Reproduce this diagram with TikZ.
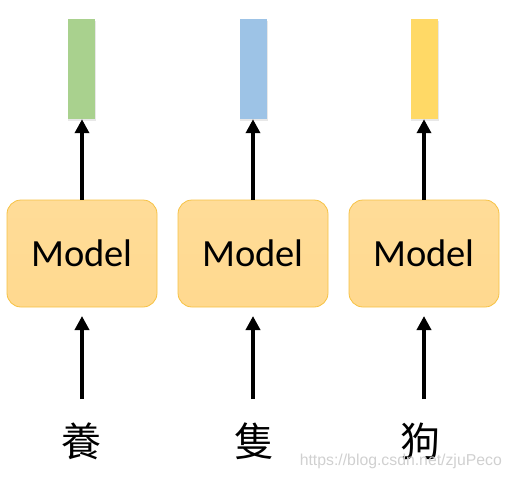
\documentclass[tikz,border=0pt]{standalone}
\usepackage{fontspec}
\setmainfont{Carlito}
\newfontfamily\cjkfont{Noto Sans CJK TC}
\newfontfamily\wmfont{Liberation Sans}
\usetikzlibrary{arrows.meta}
\definecolor{boxfill}{HTML}{FFD98F}
\definecolor{boxtop}{HTML}{FFDC98}
\definecolor{boxedge}{HTML}{F6C244}
\definecolor{vgreen}{HTML}{A9D18E}
\definecolor{vblue}{HTML}{9DC3E6}
\definecolor{vyellow}{HTML}{FFD966}
\definecolor{wmgray}{HTML}{D0D0D0}
\tikzset{
  modelbox/.style={draw=boxedge, line width=0.8pt, top color=boxtop, bottom color=boxfill,
    rounded corners=14pt, minimum width=150pt, minimum height=107pt, inner sep=0pt,
    font=\fontsize{38.5}{40}\selectfont},
  vecbar/.style={minimum width=27pt, minimum height=100pt, inner sep=0pt, draw=none},
  vecshadow/.style={fill=black, opacity=0.09, minimum width=28pt, minimum height=100pt, inner sep=0pt},
  uparrow/.style={line width=4pt, -{Triangle[width=14pt,length=14pt]}},
  cjkchar/.style={font=\cjkfont\fontsize{40}{42}\selectfont, inner sep=0pt},
  watermark/.style={font=\wmfont\fontsize{15.8}{17}\selectfont, text=wmgray, inner sep=0pt, anchor=east}
}
\begin{document}
\begin{tikzpicture}[x=1pt,y=-1pt]
\useasboundingbox (0,0) rectangle (511,480);
% models
\node[modelbox] (m1) at (82,253.5) {Model};
\node[modelbox] (m2) at (253,253.5) {Model};
\node[modelbox] (m3) at (424,253.5) {Model};
% output vectors (shadows then bars)
\node[vecshadow] at (82,70.5) {};
\node[vecshadow] at (253.5,70.5) {};
\node[vecshadow] at (424.5,70.5) {};
\node[vecbar, fill=vgreen] (v1) at (81,69) {};
\node[vecbar, fill=vblue] (v2) at (253,69) {};
\node[vecbar, fill=vyellow] (v3) at (424,69) {};
% inputs
\node[cjkchar] (c1) at (81,441) {養};
\node[cjkchar] (c2) at (254,441) {隻};
\node[cjkchar] (c3) at (420,441) {狗};
\coordinate (b1) at (82,399);
\coordinate (b2) at (253,399);
\coordinate (b3) at (424,399);
% arrows
\draw[uparrow] (m1.north) -- (m1.north |- v1.south);
\draw[uparrow] (m2.north) -- (v2.south);
\draw[uparrow] (m3.north) -- (v3.south);
\draw[uparrow] (b1) -- (m1.south |- 0,316);
\draw[uparrow] (b2) -- (m2.south |- 0,316);
\draw[uparrow] (b3) -- (m3.south |- 0,316);
% watermark
\node[watermark] (wm) at (502,461) {https://blog.csdn.net/zjuPeco};
\end{tikzpicture}
\end{document}
